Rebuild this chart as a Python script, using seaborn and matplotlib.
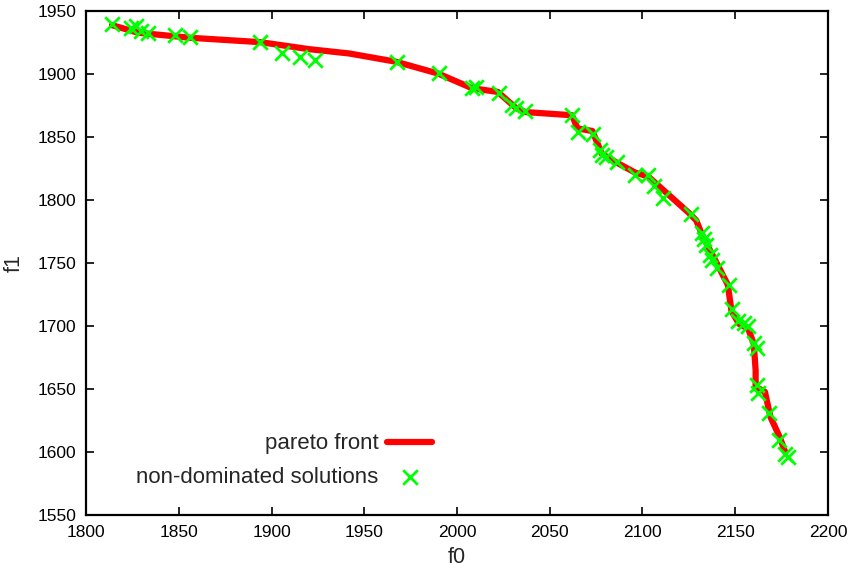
import numpy as np
import pandas as pd
import matplotlib
matplotlib.use("Agg")
import matplotlib.pyplot as plt
import seaborn as sns

# Pareto front (line vertices)

front_f0 = [1814, 1828, 1856, 1894, 1920, 1942, 1967, 1990, 2008, 2022, 2032, 2037,
            2062, 2065, 2073, 2078, 2086, 2096, 2103, 2125, 2129, 2132, 2146,
            2148, 2152, 2157, 2160, 2161, 2161, 2166, 2169, 2174, 2177]
front_f1 = [1939, 1933, 1929, 1925.5, 1920, 1916.5, 1910, 1900.5, 1889, 1886, 1873, 1870,
            1867.5, 1857, 1855, 1837, 1830, 1822, 1819, 1790, 1784, 1773, 1733,
            1712, 1702, 1698, 1686, 1665, 1652, 1648, 1628, 1612, 1600]

# Non-dominated solutions (points)

sol_f0 = [1814, 1824.5, 1827, 1829.5, 1833.5, 1848, 1856, 1894, 1905.5, 1915.5, 1923.5,
          1967.5, 1990.5, 2008, 2010, 2022.5, 2029.5, 2032, 2036.5,
          2062, 2065.5, 2073.5, 2077, 2078, 2080.5, 2086, 2096, 2103, 2106, 2111,
          2126, 2132, 2133, 2134.5, 2136.5, 2137.5, 2140, 2146.5,
          2148, 2151.5, 2154.5, 2157, 2160, 2161.5, 2161.5, 2162.5, 2168, 2173.5, 2177, 2178.5]
sol_f1 = [1940, 1936.5, 1938, 1934, 1932.5, 1931, 1929.5, 1926, 1917, 1914, 1911.5,
          1910, 1901, 1889, 1890, 1885.5, 1875.5, 1873, 1871,
          1867.5, 1854.5, 1853, 1840, 1836, 1834.5, 1830.5, 1820, 1820, 1811, 1801.5,
          1789, 1774, 1769.5, 1764.5, 1756.5, 1752.5, 1746, 1733,
          1714, 1704, 1702.5, 1700, 1686.5, 1682.5, 1653.5, 1647, 1631, 1610, 1599, 1596.5]

front = pd.DataFrame({"f0": front_f0, "f1": front_f1})
sols = pd.DataFrame({"f0": sol_f0, "f1": sol_f1})

sns.set_style("ticks")
plt.rcParams["font.family"] = ["Liberation Sans", "DejaVu Sans"]

fig = plt.figure(figsize=(8.55, 5.73), dpi=100)
ax = fig.add_axes([0.1006, 0.1007, 0.8678, 0.8796])

sns.lineplot(data=front, x="f0", y="f1", color="red", linewidth=4.5, sort=False,
             estimator=None, label="pareto front", ax=ax)
sns.scatterplot(data=sols, x="f0", y="f1", color="#00ff00", marker="x", s=110,
                linewidth=2, label="non-dominated solutions", ax=ax, zorder=3)

ax.set_xlim(1800, 2200)
ax.set_ylim(1550, 1950)
ax.set_xticks(np.arange(1800, 2201, 50))
ax.set_yticks(np.arange(1550, 1951, 50))
ax.tick_params(direction="in", top=True, right=True, length=6, width=1.2,
               labelsize=12.5, colors="black", pad=7)
for s in ax.spines.values():
    s.set_linewidth(1.6)
    s.set_color("black")
ax.set_xlabel("f0", fontsize=15.5, labelpad=5)
ax.set_ylabel("f1", fontsize=15.5, labelpad=9)

# Legend gnuplot style: text right-aligned, sample on the right

ax.legend(loc="lower right", bbox_to_anchor=(0.466, 0.055), frameon=False,
          markerfirst=False, fontsize=16, handlelength=2.0, handletextpad=0.4,
          labelspacing=0.55, borderpad=0, borderaxespad=0)

fig.savefig("out.png", dpi=100)
